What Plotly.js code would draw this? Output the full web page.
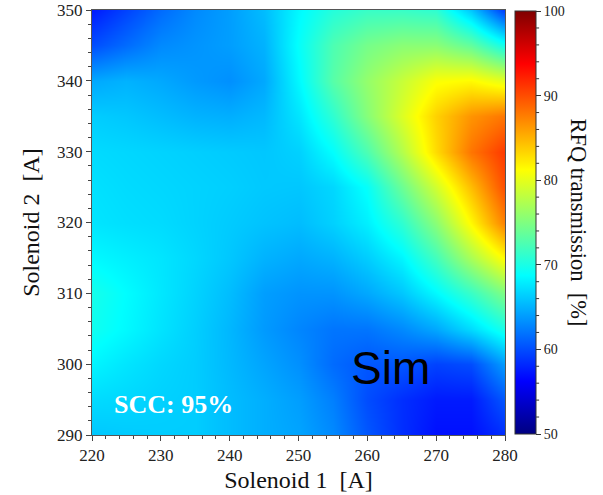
<!DOCTYPE html>
<html>
<head>
<meta charset="utf-8">
<script src="https://cdn.plot.ly/plotly-3.0.1.min.js"></script>
<style>html,body{margin:0;padding:0;background:#fff;}#chart{width:603px;height:495px;}</style>
</head>
<body>
<div id="chart"></div>
<script>
// Solenoid 1 current [A] (x) and Solenoid 2 current [A] (y)
const solenoid1 = [220, 225, 230, 235, 240, 245, 250, 255, 260, 265, 270, 275, 280];
const solenoid2 = [290, 295, 300, 305, 310, 315, 320, 325, 330, 335, 340, 345, 350];

// RFQ transmission [%], one row per Solenoid 2 value (bottom to top)
const row290 = [66.0, 66.2, 66.3, 66.3, 65.5, 64.8, 64.3, 63.0, 60.5, 58.5, 57.0, 57.0, 58.5];
const row295 = [67.0, 66.8, 66.5, 66.3, 65.5, 64.8, 64.0, 62.5, 60.0, 58.5, 57.5, 57.5, 60.5];
const row300 = [68.3, 67.5, 66.8, 66.3, 65.3, 64.3, 63.3, 61.5, 60.5, 60.5, 59.5, 60.0, 64.0];
const row305 = [69.5, 68.5, 67.4, 66.4, 65.2, 63.8, 62.8, 62.0, 62.0, 63.0, 64.5, 67.0, 70.0];
const row310 = [69.8, 68.7, 67.6, 66.6, 65.5, 64.0, 63.5, 63.5, 64.5, 66.0, 68.5, 71.5, 75.0];
const row315 = [68.5, 68.0, 67.5, 66.8, 66.0, 65.0, 64.5, 65.0, 66.3, 68.3, 72.0, 77.0, 81.5];
const row320 = [67.5, 67.2, 67.0, 66.6, 66.2, 65.8, 65.5, 66.5, 68.0, 71.0, 75.5, 81.5, 87.5];
const row325 = [67.3, 67.0, 66.8, 66.6, 66.4, 66.1, 66.0, 66.8, 69.0, 74.0, 79.0, 84.5, 90.0];
const row330 = [67.0, 66.8, 66.6, 66.4, 66.2, 66.0, 66.5, 68.8, 72.5, 77.5, 83.0, 88.0, 91.0];
const row335 = [66.3, 66.0, 65.5, 65.0, 64.8, 65.3, 67.5, 71.0, 75.3, 79.5, 83.5, 86.5, 88.0];
const row340 = [64.5, 65.0, 64.5, 63.8, 63.3, 64.5, 68.5, 73.0, 76.0, 78.5, 81.0, 81.5, 80.0];
const row345 = [60.0, 61.5, 63.0, 63.5, 64.0, 65.0, 69.0, 72.5, 74.5, 75.5, 75.5, 73.5, 69.5];
const row350 = [57.5, 59.5, 61.5, 63.0, 64.0, 65.5, 68.5, 70.5, 71.5, 71.5, 71.0, 66.0, 59.0];

const transmission = [row290, row295, row300, row305, row310, row315, row320,
                      row325, row330, row335, row340, row345, row350];

const xTickVals = [220, 230, 240, 250, 260, 270, 280];
const yTickVals = [290, 300, 310, 320, 330, 340, 350];
const cbTickVals = [50, 60, 70, 80, 90, 100];
const cbMinorVals = [52, 54, 56, 58, 62, 64, 66, 68, 72, 74, 76, 78, 82, 84, 86, 88, 92, 94, 96, 98];

const serif = '"Liberation Serif", "Times New Roman", serif';

const jet = [
  [0, 'rgb(0,0,128)'], [0.125, 'rgb(0,0,255)'], [0.375, 'rgb(0,255,255)'],
  [0.625, 'rgb(255,255,0)'], [0.875, 'rgb(255,0,0)'], [1, 'rgb(128,0,0)']
];

const cbX = 1.0245, cbLen = 0.995, cbThick = 21, plotW = 413;

const trace = {
  type: 'heatmap',
  x: solenoid1,
  y: solenoid2,
  z: transmission,
  zmin: 50, zmax: 100,
  zsmooth: 'best',
  colorscale: jet,
  colorbar: {
    x: cbX, xanchor: 'left', xpad: 0,
    y: 0.5, yanchor: 'middle', ypad: 0,
    len: cbLen, lenmode: 'fraction',
    thickness: cbThick, thicknessmode: 'pixels',
    outlinewidth: 1, outlinecolor: '#333',
    tickmode: 'array', tickvals: cbTickVals,
    ticks: 'outside', ticklen: 5, tickcolor: '#333',
    tickfont: {family: serif, size: 14, color: '#222'}
  },
  hoverinfo: 'skip'
};

// minor ticks on the colorbar
const shapes = cbMinorVals.map(v => {
  const yy = 0.5 - cbLen / 2 + (v - 50) / 50 * cbLen;
  return {
    type: 'line', xref: 'paper', yref: 'paper',
    x0: cbX + cbThick / plotW, x1: cbX + (cbThick + 3) / plotW,
    y0: yy, y1: yy,
    line: {color: '#333', width: 1}
  };
});

const layout = {
  width: 603, height: 495,
  margin: {l: 92, r: 98, t: 10, b: 60},
  paper_bgcolor: '#fff', plot_bgcolor: '#fff',
  font: {family: serif, color: '#222'},
  xaxis: {
    range: [220, 280], tickmode: 'array', tickvals: xTickVals,
    ticks: 'outside', ticklen: 5, tickcolor: '#444',
    minor: {dtick: 2, ticks: 'outside', ticklen: 3, tickcolor: '#444'},
    showline: true, linecolor: '#555', linewidth: 1, mirror: true,
    showgrid: false, zeroline: false,
    tickfont: {family: serif, size: 17, color: '#222'},
    title: {text: 'Solenoid 1  [A]', font: {family: serif, size: 24, color: '#111'}, standoff: 6}
  },
  yaxis: {
    range: [290, 350], tickmode: 'array', tickvals: yTickVals,
    ticks: 'outside', ticklen: 5, tickcolor: '#444',
    minor: {dtick: 2, ticks: 'outside', ticklen: 3, tickcolor: '#444'},
    showline: true, linecolor: '#555', linewidth: 1, mirror: true,
    showgrid: false, zeroline: false,
    tickfont: {family: serif, size: 17, color: '#222'},
    title: {text: 'Solenoid 2  [A]', font: {family: serif, size: 24, color: '#111'}, standoff: 10}
  },
  shapes: shapes,
  annotations: [
    {text: 'Sim', xref: 'x', yref: 'y', x: 263.3, y: 299.4, showarrow: false,
     xanchor: 'center', yanchor: 'middle',
     font: {family: '"Liberation Sans", Arial, sans-serif', size: 46, color: '#000'}},
    {text: '<b>SCC: 95%</b>', xref: 'x', yref: 'y', x: 231.9, y: 294.3, showarrow: false,
     xanchor: 'center', yanchor: 'middle',
     font: {family: serif, size: 26, color: '#fff'}},
    {text: 'RFQ transmission  [%]', xref: 'paper', yref: 'paper', x: 1.177, y: 0.5,
     showarrow: false, textangle: 90, xanchor: 'center', yanchor: 'middle',
     font: {family: serif, size: 22.5, color: '#111'}}
  ]
};

Plotly.newPlot('chart', [trace], layout, {displayModeBar: false, staticPlot: true});
</script>
</body>
</html>
